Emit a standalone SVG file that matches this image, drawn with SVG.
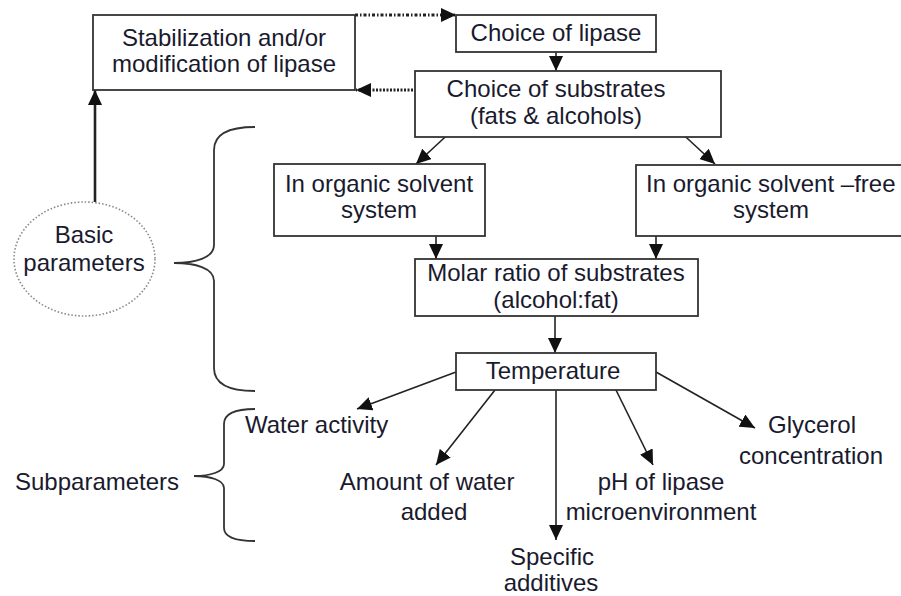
<svg xmlns="http://www.w3.org/2000/svg" width="901" height="596" viewBox="0 0 901 596">
<style>
.box{fill:#fff;stroke:#333;stroke-width:1.8}
text{font-family:"Liberation Sans",Arial,sans-serif;font-size:24px;fill:#1a1a2e}
.c{text-anchor:middle}
.ln{stroke:#222;stroke-width:1.6;fill:none}
.br{stroke:#333;stroke-width:1.8;fill:none}
</style>
<defs>
<marker id="ah" markerUnits="userSpaceOnUse" markerWidth="16" markerHeight="14" viewBox="0 0 16 14" refX="15" refY="7" orient="auto">
<path d="M0,0 L15,7 L0,14 Z" fill="#111"/>
</marker>
</defs>
<rect width="901" height="596" fill="#fff"/>
<g id="connectors">
<line class="ln" x1="355" y1="15" x2="456" y2="15" style="stroke-width:3.2;stroke-dasharray:3,2,1.5,2" marker-end="url(#ah)"/>
<line class="ln" x1="413" y1="90" x2="356" y2="90" style="stroke-width:3;stroke-dasharray:2,1.5" marker-end="url(#ah)"/>
<line class="ln" x1="95" y1="202" x2="95" y2="90" style="stroke-width:2.6" marker-end="url(#ah)"/>
<line class="ln" x1="556" y1="52" x2="556" y2="71" marker-end="url(#ah)"/>
<line class="ln" x1="456" y1="127" x2="416" y2="164" marker-end="url(#ah)"/>
<line class="ln" x1="675" y1="127" x2="715" y2="164" marker-end="url(#ah)"/>
<line class="ln" x1="436" y1="221" x2="436" y2="259" marker-end="url(#ah)"/>
<line class="ln" x1="656" y1="221" x2="656" y2="259" marker-end="url(#ah)"/>
<line class="ln" x1="555" y1="316" x2="555" y2="353" marker-end="url(#ah)"/>
<line class="ln" x1="456" y1="372" x2="357" y2="409" marker-end="url(#ah)"/>
<line class="ln" x1="495" y1="390" x2="436" y2="465" marker-end="url(#ah)"/>
<line class="ln" x1="556" y1="390" x2="556" y2="540" marker-end="url(#ah)"/>
<line class="ln" x1="616" y1="390" x2="653" y2="465" marker-end="url(#ah)"/>
<line class="ln" x1="656" y1="372" x2="755" y2="428" marker-end="url(#ah)"/>
</g>
<g id="braces">
<path class="br" d="M255,127 C232,127 214,133 214,150 L214,245 C214,258 195,263 174,263 C195,263 214,268 214,281 L214,368 C214,385 232,391 255,391"/>
<path class="br" d="M255,409 C238,409 224,412 224,424 L224,464 C224,472 210,476 194,476 C210,476 224,480 224,488 L224,528 C224,538 238,541 255,541"/>
</g>
<g id="stabilization">
<rect class="box" x="93" y="15" width="262" height="75"/>
<text class="c" x="224" y="46">Stabilization and/or</text>
<text class="c" x="224" y="72">modification of lipase</text>
</g>
<g id="choice-lipase">
<rect class="box" x="456" y="15" width="200" height="37"/>
<text class="c" x="556" y="41">Choice of lipase</text>
</g>
<g id="choice-substrates">
<rect class="box" x="415" y="71" width="306" height="66"/>
<text class="c" x="556" y="97">Choice of substrates</text>
<text class="c" x="556" y="124">(fats &amp; alcohols)</text>
</g>
<g id="solvent">
<rect class="box" x="274" y="164" width="211" height="72"/>
<text class="c" x="379" y="192">In organic solvent</text>
<text class="c" x="379" y="218">system</text>
</g>
<g id="solvent-free">
<rect class="box" x="636" y="165" width="280" height="71"/>
<text x="646" y="192">In organic solvent –free</text>
<text x="733" y="218">system</text>
</g>
<g id="molar">
<rect class="box" x="415" y="259" width="283" height="57"/>
<text class="c" x="556" y="281">Molar ratio of substrates</text>
<text class="c" x="556" y="308">(alcohol:fat)</text>
</g>
<g id="temperature">
<rect class="box" x="456" y="353" width="200" height="37"/>
<text class="c" x="553" y="379">Temperature</text>
</g>
<g id="basic">
<ellipse cx="84.5" cy="259" rx="70.5" ry="57" fill="none" stroke="#888" stroke-width="1.6" stroke-dasharray="1.5,2"/>
<text class="c" x="84" y="243">Basic</text>
<text class="c" x="84" y="271">parameters</text>
</g>
<g id="subparameters"><text x="15" y="490">Subparameters</text></g>
<g id="water-activity"><text x="245" y="433">Water activity</text></g>
<g id="amount-water">
<text class="c" x="427" y="490">Amount of water</text>
<text class="c" x="434" y="520">added</text>
</g>
<g id="specific">
<text class="c" x="552" y="565">Specific</text>
<text class="c" x="551" y="591">additives</text>
</g>
<g id="ph">
<text class="c" x="661" y="490">pH of lipase</text>
<text class="c" x="661" y="520">microenvironment</text>
</g>
<g id="glycerol">
<text class="c" x="812" y="433">Glycerol</text>
<text class="c" x="811" y="464">concentration</text>
</g>
</svg>
